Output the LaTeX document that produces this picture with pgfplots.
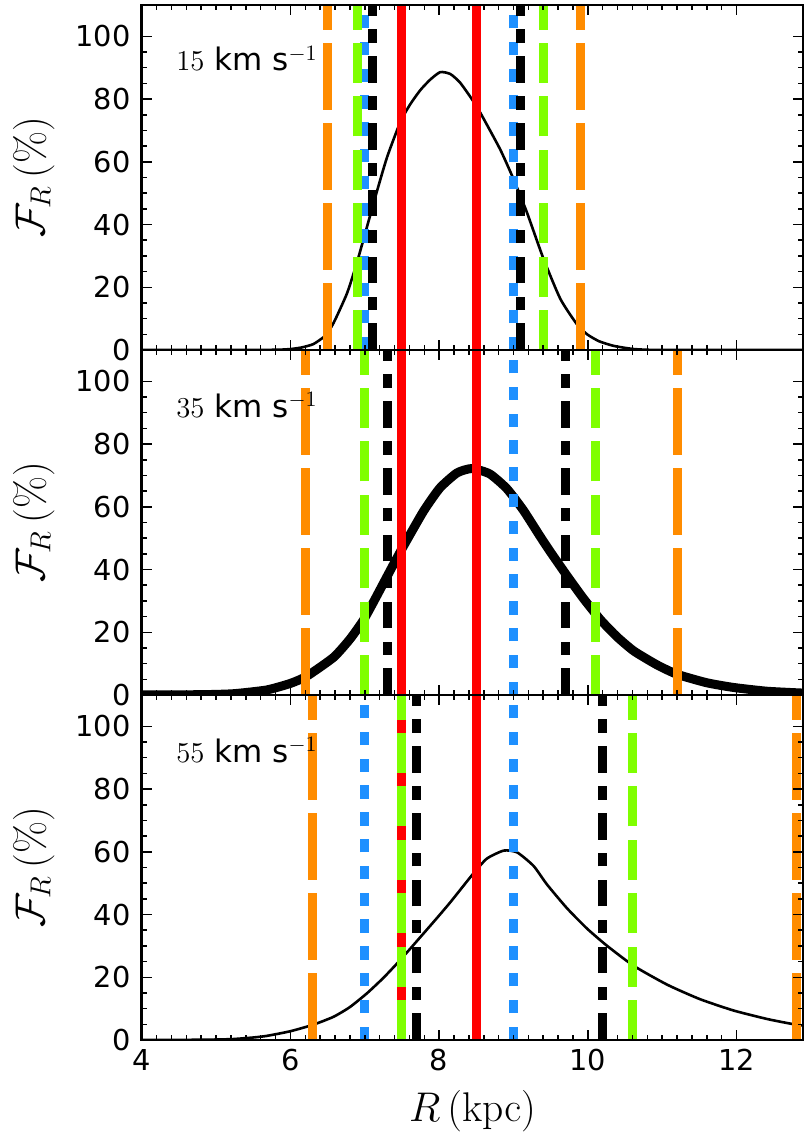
\documentclass[border=0pt]{standalone}
\usepackage[no-math]{fontspec}
\setmainfont{DejaVu Sans}
\usepackage{pgfplots}
\pgfplotsset{compat=1.18}
\definecolor{dorange}{HTML}{FF8C00}
\definecolor{lgreen}{HTML}{7FFF00}
\definecolor{dblue}{HTML}{1E90FF}
\definecolor{pred}{HTML}{FF0000}

\tikzset{
 orangel/.style={dorange, line width=4.5pt, dash pattern=on 33.3pt off 6.7pt},
 greenl/.style={lgreen, line width=4.5pt, dash pattern=on 20pt off 6.7pt},
 bluel/.style={dblue, line width=4.5pt, dash pattern=on 6.7pt off 6.7pt},
 blackl/.style={black, line width=4.5pt, dash pattern=on 13.3pt off 6.7pt on 6.7pt off 6.7pt},
 redl/.style={pred, line width=4.5pt},
 ann/.style={anchor=base west, font=\fontsize{15.5}{18}\selectfont, inner sep=0pt},
}

\pgfplotsset{
 panel/.style={
  scale only axis, width=330.9pt, height=172.5pt,
  xmin=4, xmax=12.9, ymin=0, ymax=110,
  xtick={4,6,8,10,12}, ytick={0,20,...,100},
  minor x tick num=9, minor y tick num=3,
  tick align=inside,
  major tick length=5pt, minor tick length=2.5pt,
  tick style={line width=0.75pt, black},
  axis line style={line width=1.2pt},
  axis on top,
  /pgf/number format/assume math mode=true,
  ticklabel style={font=\fontsize{14.4}{17}\selectfont},
  yticklabel style={xshift=-2pt},
  xticklabel style={yshift=-1.2pt},
  ylabel={$\mathcal{F}_R\,(\%)$},
  ylabel style={font=\fontsize{21}{25}\selectfont, at={(axis description cs:-0.163,0.5)}, anchor=center},
 },
}

\begin{document}
\begin{tikzpicture}
\path[use as bounding box] (-70.85pt,-51pt) rectangle (331.15pt,520pt);

% ---------- top panel: 15 km/s ----------
\begin{axis}[panel, at={(0,345pt)}, anchor=south west, xticklabels={}]
\addplot[black, line width=1.3pt, smooth, tension=0.35] coordinates {
(4,0) (5.0,0) (5.5,0) (5.85,0.1) (6.0,0.3) (6.15,0.8) (6.31,1.9) (6.47,4.6) (6.58,8.6)
(6.76,18.0) (6.89,27.5) (7.03,39.3) (7.16,50.3) (7.30,61.5) (7.48,72.8) (7.61,78.3)
(7.745,82.8) (7.88,86.2) (8.015,88.6) (8.15,88.0) (8.28,85.3) (8.44,80) (8.55,75.8)
(8.82,64) (9.0,54.5) (9.18,43.9) (9.40,29.3) (9.63,16.3) (9.85,8.3) (9.99,5.0)
(10.15,2.8) (10.35,1.3) (10.62,0.3) (11.0,0) (12.9,0)};
\addplot[redl] coordinates {(7.5,0) (7.5,110)};
\addplot[redl] coordinates {(8.5,0) (8.5,110)};
\addplot[bluel] coordinates {(7.0,0) (7.0,110)};
\addplot[bluel] coordinates {(9.0,0) (9.0,110)};
\addplot[blackl] coordinates {(7.1,0) (7.1,110)};
\addplot[blackl] coordinates {(9.1,0) (9.1,110)};
\addplot[greenl] coordinates {(6.9,0) (6.9,110)};
\addplot[greenl] coordinates {(9.4,0) (9.4,110)};
\addplot[orangel] coordinates {(6.5,0) (6.5,110)};
\addplot[orangel] coordinates {(9.9,0) (9.9,110)};
\node[ann] at (axis cs:4.46,89) {$15$ km s$^{-1}$};
\end{axis}

% ---------- middle panel: 35 km/s ----------
\begin{axis}[panel, at={(0,172.5pt)}, anchor=south west, xticklabels={}]
\addplot[black, line width=4.5pt, smooth, tension=0.35] coordinates {
(4,0) (4.8,0.1) (5.23,0.4) (5.68,1.6) (6.0,3.7) (6.22,6.0) (6.58,12.0) (6.80,17.8)
(6.98,23.8) (7.114,29.5) (7.34,39.6) (7.50,46.6) (7.79,58.6) (8.01,66.0) (8.24,70.8)
(8.44,72.2) (8.68,70.5) (8.91,65.8) (9.13,59.0) (9.36,50.5) (9.50,45.5) (9.72,38.0)
(9.94,30.8) (10.17,24.0) (10.39,18.6) (10.62,14.0) (10.93,9.6) (11.2,6.6) (11.6,3.9)
(11.96,2.4) (12.41,1.2) (12.9,0.6)};
\addplot[redl] coordinates {(7.5,0) (7.5,110)};
\addplot[redl] coordinates {(8.5,0) (8.5,110)};
\addplot[bluel] coordinates {(9.0,0) (9.0,110)};
\addplot[blackl] coordinates {(7.3,0) (7.3,110)};
\addplot[blackl] coordinates {(9.7,0) (9.7,110)};
\addplot[greenl] coordinates {(7.0,0) (7.0,110)};
\addplot[greenl] coordinates {(10.1,0) (10.1,110)};
\addplot[orangel] coordinates {(6.2,0) (6.2,110)};
\addplot[orangel] coordinates {(11.2,0) (11.2,110)};
\node[ann] at (axis cs:4.46,88.6) {$35$ km s$^{-1}$};
\end{axis}

% ---------- bottom panel: 55 km/s ----------
\begin{axis}[panel, at={(0,0)}, anchor=south west,
  xlabel={$R\,(\mathrm{kpc})$},
  xlabel style={font=\fontsize{21}{25}\selectfont, at={(axis description cs:0.5,-0.2348)}, anchor=base}]
\addplot[black, line width=1.3pt, smooth, tension=0.35] coordinates {
(4,0) (4.6,0.05) (5.0,0.15) (5.23,0.3) (5.5,0.8) (5.68,1.3) (6.0,2.8) (6.31,4.9)
(6.58,7.4) (6.80,10.5) (7.03,14.9) (7.25,19.8) (7.45,24.8) (7.57,28.0) (7.92,37.5)
(8.15,43.9) (8.44,52.5) (8.64,57.8) (8.87,60.4) (9.05,59.8) (9.27,55.5) (9.45,49.6)
(9.72,42.0) (9.99,35.5) (10.26,30.0) (10.62,23.6) (11.07,17.6) (11.51,13.0)
(11.96,9.4) (12.41,6.7) (12.75,5.1) (12.9,4.6)};
\addplot[redl] coordinates {(7.5,0) (7.5,110)};
\addplot[redl] coordinates {(8.5,0) (8.5,110)};
\addplot[bluel] coordinates {(7.0,0) (7.0,110)};
\addplot[bluel] coordinates {(9.0,0) (9.0,110)};
\addplot[blackl] coordinates {(7.7,0) (7.7,110)};
\addplot[blackl] coordinates {(10.2,0) (10.2,110)};
\addplot[greenl] coordinates {(7.5,0) (7.5,110)};
\addplot[greenl] coordinates {(10.6,0) (10.6,110)};
\addplot[orangel] coordinates {(6.3,0) (6.3,110)};
\addplot[orangel] coordinates {(12.8,0) (12.8,110)};
\node[ann] at (axis cs:4.46,88.6) {$55$ km s$^{-1}$};
\end{axis}
\end{tikzpicture}
\end{document}
